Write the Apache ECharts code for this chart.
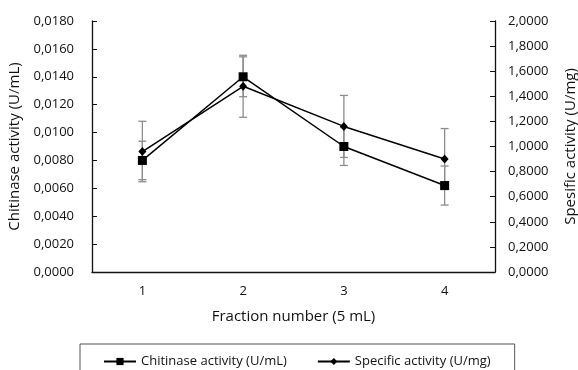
<!DOCTYPE html>
<html>
<head>
<meta charset="utf-8">
<script src="https://cdn.jsdelivr.net/npm/echarts@6/dist/echarts.min.js"></script>
<style>html,body{margin:0;padding:0;background:#fff}#c{width:578px;height:370px}</style>
</head>
<body>
<div id="c"></div>
<script>
var categories = ['1', '2', '3', '4'];
var chitinase = [0.0080, 0.0140, 0.0090, 0.0062];
var chitinaseErr = [0.00138, 0.00143, 0.00136, 0.00140];
var specific = [0.96, 1.48, 1.16, 0.90];
var specificErr = [0.241, 0.247, 0.247, 0.243];
var leftTicks = [0, 0.002, 0.004, 0.006, 0.008, 0.010, 0.012, 0.014, 0.016, 0.018];
var rightTicks = [0, 0.2, 0.4, 0.6, 0.8, 1.0, 1.2, 1.4, 1.6, 1.8, 2.0];

var FONT = 'Open Sans';
function fmt(v){ return v.toFixed(4).replace('.', ','); }

function errSeries(vals, errs, yIdx){
  return {
    type: 'custom',
    yAxisIndex: yIdx,
    z: 1,
    silent: true,
    data: vals.map(function(v,i){ return [i, v - errs[i], v + errs[i]]; }),
    renderItem: function(params, api){
      var lo = api.coord([api.value(0), api.value(1)]);
      var hi = api.coord([api.value(0), api.value(2)]);
      var w = 4;
      var st = {stroke: '#8c8c8c', lineWidth: 1.3};
      return {type: 'group', children: [
        {type: 'line', shape: {x1: lo[0], y1: lo[1], x2: hi[0], y2: hi[1]}, style: st},
        {type: 'line', shape: {x1: lo[0]-w, y1: lo[1], x2: lo[0]+w, y2: lo[1]}, style: st},
        {type: 'line', shape: {x1: hi[0]-w, y1: hi[1], x2: hi[0]+w, y2: hi[1]}, style: st}
      ]};
    }
  };
}

var chart = echarts.init(document.getElementById('c'), null, {renderer: 'canvas'});
chart.setOption({
  animation: false,
  backgroundColor: '#fff',
  textStyle: {fontFamily: FONT},
  grid: {left: 92, right: 83, top: 21, bottom: 98, containLabel: false, outerBoundsMode: 'none'},
  legend: {
    left: 80, top: 344,
    padding: [11, 24, 20, 23],
    borderColor: '#555', borderWidth: 1,
    itemGap: 30, itemWidth: 32, itemHeight: 9,
    textStyle: {fontFamily: FONT, fontSize: 13, color: '#111'},
    data: [
      {name: 'Chitinase activity (U/mL)'},
      {name: 'Specific activity (U/mg)'}
    ]
  },
  xAxis: {
    type: 'category', data: categories, boundaryGap: true,
    name: 'Fraction number (5 mL)', nameLocation: 'middle', nameGap: 37,
    nameTextStyle: {fontFamily: FONT, fontSize: 15, color: '#111'},
    axisLine: {lineStyle: {color: '#111', width: 1.3}},
    axisTick: {inside: true, length: 5, lineStyle: {color: '#111'}},
    axisLabel: {fontFamily: FONT, fontSize: 13, color: '#111', margin: 13}
  },
  yAxis: [{
    type: 'value', min: 0, max: 0.018, interval: 0.002,
    name: 'Chitinase activity (U/mL)', nameLocation: 'middle', nameGap: 70, nameRotate: 90,
    nameTextStyle: {fontFamily: FONT, fontSize: 15, color: '#111'},
    axisLine: {show: true, lineStyle: {color: '#111', width: 1.3}},
    axisTick: {show: true, inside: true, length: 5, lineStyle: {color: '#111'}},
    splitLine: {show: false},
    axisLabel: {fontFamily: FONT, fontSize: 13, color: '#111', margin: 18, formatter: fmt,
      customValues: leftTicks}
  }, {
    type: 'value', min: 0, max: 2, interval: 0.2, position: 'right',
    name: 'Spesific activity (U/mg)', nameLocation: 'middle', nameGap: 68, nameRotate: 90,
    nameTextStyle: {fontFamily: FONT, fontSize: 15, color: '#111'},
    axisLine: {show: true, lineStyle: {color: '#111', width: 1.3}},
    axisTick: {show: true, inside: true, length: 5, lineStyle: {color: '#111'}},
    splitLine: {show: false},
    axisLabel: {fontFamily: FONT, fontSize: 13, color: '#111', margin: 13, formatter: fmt,
      customValues: rightTicks}
  }],
  series: [
    errSeries(chitinase, chitinaseErr, 0),
    errSeries(specific, specificErr, 1),
    {
      name: 'Chitinase activity (U/mL)', type: 'line', yAxisIndex: 0, z: 3,
      data: chitinase, symbol: 'rect', symbolSize: 9,
      itemStyle: {color: '#000'}, lineStyle: {color: '#000', width: 1.5}
    },
    {
      name: 'Specific activity (U/mg)', type: 'line', yAxisIndex: 1, z: 3,
      data: specific, symbol: 'diamond', symbolSize: [8, 9],
      itemStyle: {color: '#000'}, lineStyle: {color: '#000', width: 1.5}
    }
  ]
});
</script>
</body>
</html>
